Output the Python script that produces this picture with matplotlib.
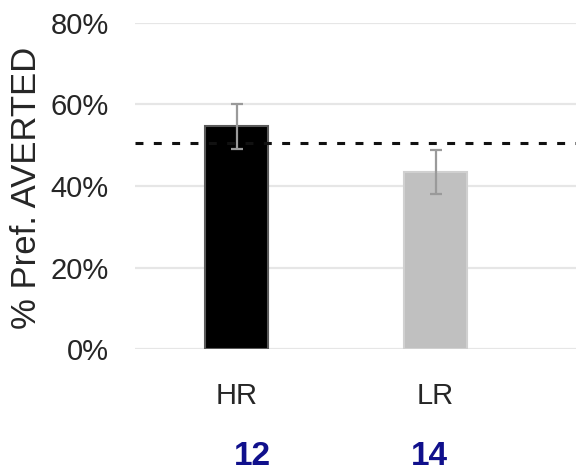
import matplotlib
matplotlib.use('Agg')
import matplotlib.pyplot as plt
from matplotlib.ticker import PercentFormatter

# ─── Data ──────────────────────────────────────────────────────
groups = ['HR', 'LR']
means = [54.6, 43.5]
errors = [5.4, 5.4]
counts = ['12', '14']
chance = 50.6
yticks = [0, 20, 40, 60, 80]

BAR_COLORS = ['#000000', '#c0c0c0']
EDGE_COLORS = ['#5a5a5a', '#d0d0d0']
NAVY = '#10108c'
TXT = '#262626'

plt.rcParams['font.family'] = ['Liberation Sans', 'DejaVu Sans']

fig = plt.figure(figsize=(5.76, 4.74), dpi=100)
ax = fig.add_axes([0.2344, 0.2637, 0.7656, 0.6878])

x = list(range(len(groups)))
ax.bar(x, means, width=0.315, color=BAR_COLORS, edgecolor=EDGE_COLORS,
       linewidth=1.5, zorder=3)
ax.errorbar(x, means, yerr=errors, fmt='none', ecolor='#9a9a9a',
            elinewidth=1.6, capsize=4, capthick=1.6, zorder=4)

ax.axhline(chance, color='#111111', lw=2.2, dashes=(2.6, 3.4), zorder=5)

ax.set_xlim(-0.51, 1.706)
ax.set_ylim(0, 80)
ax.set_yticks(yticks)
ax.yaxis.set_major_formatter(PercentFormatter(decimals=0))
ax.grid(axis='y', color='#e6e6e6', lw=1.6, zorder=0)
for s in ax.spines.values():
    s.set_visible(False)

ax.set_xticks(x)
ax.set_xticklabels(groups)
ax.tick_params(axis='both', length=0, colors=TXT)
ax.tick_params(axis='y', labelsize=21, pad=19)
ax.tick_params(axis='x', labelsize=21, pad=24)

ax.set_ylabel('% Pref. AVERTED', fontsize=25, color=TXT)
ax.yaxis.set_label_coords(-0.208, 0.494)

# sample sizes under the category labels
offsets = [0.08, -0.03]
for i, n in enumerate(counts):
    ax.text(x[i] + offsets[i], -0.33, n, transform=ax.get_xaxis_transform(),
            ha='center', va='center', fontsize=24, fontweight='bold', color=NAVY)

fig.savefig('out.png', dpi=100, facecolor='white')
